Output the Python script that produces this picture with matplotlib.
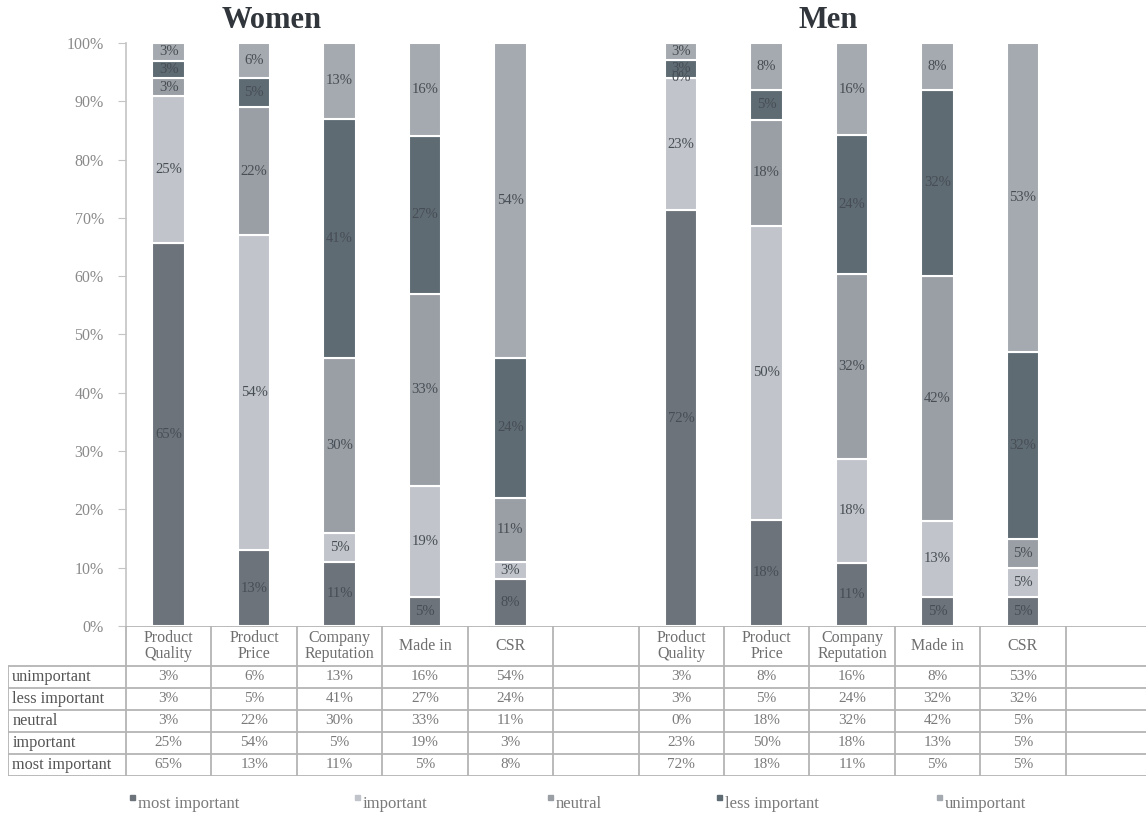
import numpy as np
import matplotlib
matplotlib.use("Agg")
import matplotlib.pyplot as plt
from matplotlib.patches import Rectangle

plt.rcParams['font.family'] = ['Liberation Serif', 'DejaVu Serif']

# данные
categories = ["Product\nQuality", "Product\nPrice", "Company\nReputation", "Made in", "CSR"]
levels = ["most important", "important", "neutral", "less important", "unimportant"]
colors = ["#6d737b", "#c1c5cb", "#9a9fa6", "#5e6b73", "#a5aab0"]

# значения в порядке levels (снизу вверх), по категориям
women_most = [65, 13, 11, 5, 8]
women_imp = [25, 54, 5, 19, 3]
women_neutral = [3, 22, 30, 33, 11]
women_less = [3, 5, 41, 27, 24]
women_unimp = [3, 6, 13, 16, 54]

men_most = [72, 18, 11, 5, 5]
men_imp = [23, 50, 18, 13, 5]
men_neutral = [0, 18, 32, 42, 5]
men_less = [3, 5, 24, 32, 32]
men_unimp = [3, 8, 16, 8, 53]

women = np.array([women_most, women_imp, women_neutral, women_less, women_unimp], dtype=float)
men = np.array([men_most, men_imp, men_neutral, men_less, men_unimp], dtype=float)

W, H = 1146, 813
fig = plt.figure(figsize=(W / 100, H / 100), dpi=100)

# геометрия в пикселях
ax_left, ax_right = 126, 1151
y0_px, y100_px = 626, 43
col_w = (ax_right - ax_left) / 12.0

ax = fig.add_axes([ax_left / W, 1 - y0_px / H, (ax_right - ax_left) / W, (y0_px - y100_px) / H])
ax.set_xlim(-0.5, 11.5)
ax.set_ylim(0, 1)
for s in ["top", "right", "bottom"]:
    ax.spines[s].set_visible(False)
ax.spines["left"].set_color("#c4c4c4")
ax.spines["left"].set_linewidth(1.2)
ax.set_xticks([])
ax.set_yticks(np.linspace(0, 1, 11))
ax.set_yticklabels([f"{int(v)}%" for v in np.arange(0, 101, 10)])
ax.tick_params(axis="y", length=6, color="#c4c4c4", labelcolor="#8a8a8a", labelsize=11.5, pad=10)

text_col = "#474d54"
for group, xs in [(women, np.arange(5)), (men, np.arange(6, 11))]:
    totals = group.sum(axis=0)
    bottom = np.zeros(5)
    for i in range(5):
        h = group[i] / totals
        ax.bar(xs, h, width=0.38, bottom=bottom, color=colors[i], edgecolor="white", linewidth=1.5)
        for x, b, hh, v in zip(xs, bottom, h, group[i]):
            ax.text(x, b + hh / 2, f"{int(v)}%", ha="center", va="center", fontsize=10.5, color=text_col)
        bottom = bottom + h

# таблица под графиком
tab_left = 8
tab_top, head_h, row_h = y0_px, 40, 22
n_rows = 5
tab_bottom = tab_top + head_h + row_h * n_rows
x_left = -0.5 - (ax_left - tab_left) / col_w
tax = fig.add_axes([tab_left / W, 1 - tab_bottom / H, (ax_right - tab_left) / W, (tab_bottom - tab_top) / H])
tax.set_xlim(x_left, 11.5)
tax.set_ylim(head_h + row_h * n_rows, 0)
tax.axis("off")

line_c = "#b4b4b4"
tax.hlines(0, -0.5, 11.5, color=line_c, lw=1.3)
for r in range(n_rows + 1):
    tax.hlines(head_h + r * row_h, x_left, 11.5, color=line_c, lw=1.3)
for c in range(13):
    tax.vlines(c - 0.5, 0, head_h + row_h * n_rows, color=line_c, lw=1.3)
tax.vlines(x_left, head_h, head_h + row_h * n_rows, color=line_c, lw=1.3)

all_cats = categories + [""] + categories + [""]
for c, name in enumerate(all_cats):
    tax.text(c, head_h / 2, name, ha="center", va="center", fontsize=11.5, color="#6e6e6e", linespacing=1.0)

row_order = [4, 3, 2, 1, 0]  # unimportant сверху
for r, li in enumerate(row_order):
    yc = head_h + r * row_h + row_h / 2
    tax.text(x_left + 0.05, yc, levels[li], ha="left", va="center", fontsize=11.7, color="#555555")
    for c in range(5):
        tax.text(c, yc, f"{int(women[li, c])}%", ha="center", va="center", fontsize=11, color="#7a7a7a")
        tax.text(c + 6, yc, f"{int(men[li, c])}%", ha="center", va="center", fontsize=11, color="#7a7a7a")

# заголовки
fig.text(272 / W, 1 - 20 / H, "Women", ha="center", va="center", fontsize=22, fontweight="bold", color="#30363b")
fig.text(828 / W, 1 - 20 / H, "Men", ha="center", va="center", fontsize=22, fontweight="bold", color="#30363b")

# легенда
leg_y = 802
leg_x = [132, 357, 550, 719, 939]
for i, name in enumerate(levels):
    mx = leg_x[i]
    fig.patches.append(Rectangle(((mx - 2.5) / W, 1 - (leg_y - 2) / H), 5 / W, 5 / H,
                                 transform=fig.transFigure, color=colors[i]))
    fig.text((mx + 6) / W, 1 - (leg_y + 2) / H, name, ha="left", va="center", fontsize=12, color="#7a7a7a")

fig.savefig("out.png", dpi=100, facecolor="white")
